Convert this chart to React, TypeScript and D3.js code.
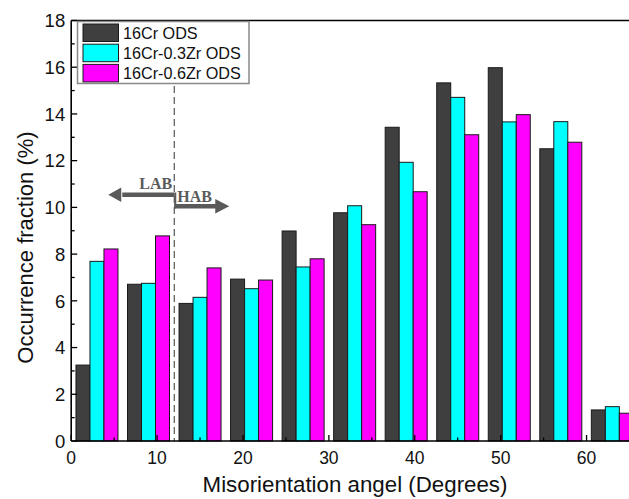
import * as d3 from 'd3'

// bins of 6 degrees, labelled by their centre
const BIN_CENTERS = [3, 9, 15, 21, 27, 33, 39, 45, 51, 57, 63]
const SERIES_NAMES = ['16Cr ODS', '16Cr-0.3Zr ODS', '16Cr-0.6Zr ODS']
const S_16CR = [3.25, 6.71, 5.89, 6.93, 8.99, 9.77, 13.43, 15.33, 15.98, 12.51, 1.33]
const S_03ZR = [7.69, 6.75, 6.15, 6.52, 7.45, 10.07, 11.93, 14.71, 13.66, 13.67, 1.47]
const S_06ZR = [8.22, 8.78, 7.41, 6.89, 7.8, 9.26, 10.67, 13.11, 13.97, 12.79, 1.19]
const COLORS = ['#3f3f3f', '#00ffff', '#ff00ff']
const X_TICKS = [0, 10, 20, 30, 40, 50, 60]
const Y_TICKS = [0, 2, 4, 6, 8, 10, 12, 14, 16, 18]
const BOUNDARY = 12

const W = 629
const H = 499
const FONT = 'Arial, "Liberation Sans", sans-serif'

export default function App() {
  const x = d3.scaleLinear().domain([0, 66]).range([71.2, 638.1])
  const y = d3.scaleLinear().domain([0, 18]).range([441, 20.5])
  const series = [S_16CR, S_03ZR, S_06ZR]
  const barW = x(1.63) - x(0)
  const groupW = barW * 3

  const minorX = d3.range(5, 66, 10)
  const minorY = d3.range(1, 18, 2)
  const bx = x(BOUNDARY)

  return (
    <svg width={W} height={H} style={{ position: 'absolute', left: 0, top: 0, background: '#fff' }}
      fontFamily={FONT}>
      {/* bars */}
      {series.map((vals, si) => (
        <g key={si}>
          {vals.map((v, i) => (
            <rect key={i}
              x={x(BIN_CENTERS[i]) - groupW / 2 + si * barW}
              y={y(v)}
              width={barW}
              height={y(0) - y(v)}
              fill={COLORS[si]} stroke="#1a1a1a" strokeWidth={1} />
          ))}
        </g>
      ))}

      {/* LAB / HAB boundary */}
      <line x1={bx} x2={bx} y1={86} y2={y(0)} stroke="#555" strokeWidth={1.2} strokeDasharray="7,4" />
      <g fill="#5a5a5a">
        <rect x={bx - 52} y={192.5} width={52} height={4.5} />
        <path d={`M${bx - 53},187.5 L${bx - 53},202 L${bx - 66},194.7 Z`} />
        <rect x={bx} y={192.5} width={2} height={16} />
        <rect x={bx} y={204} width={42} height={4.5} />
        <path d={`M${bx + 41},199 L${bx + 41},213.5 L${bx + 55},206.2 Z`} />
      </g>
      <text x={bx - 2} y={189} textAnchor="end" fontFamily='"Liberation Serif", "Times New Roman", serif'
        fontWeight="bold" fontSize={16} fill="#5a5a5a">LAB</text>
      <text x={bx + 3} y={201.5} fontFamily='"Liberation Serif", "Times New Roman", serif'
        fontWeight="bold" fontSize={16} fill="#5a5a5a">HAB</text>

      {/* axes frame */}
      <line x1={x(0)} x2={W} y1={y(0)} y2={y(0)} stroke="#000" strokeWidth={1.6} />
      <line x1={x(0)} x2={x(0)} y1={y(0)} y2={y(18)} stroke="#000" strokeWidth={1.6} />
      <line x1={x(0)} x2={W} y1={y(18)} y2={y(18)} stroke="#000" strokeWidth={1.6} />

      {/* x ticks */}
      {X_TICKS.map(t => (
        <g key={t}>
          <line x1={x(t)} x2={x(t)} y1={y(0)} y2={y(0) - 6} stroke="#000" strokeWidth={1.3} />
          <text x={x(t)} y={463.5} textAnchor="middle" fontSize={17.5} fill="#111">{t}</text>
        </g>
      ))}
      {minorX.map(t => (
        <line key={t} x1={x(t)} x2={x(t)} y1={y(0)} y2={y(0) - 3.5} stroke="#000" strokeWidth={1.3} />
      ))}

      {/* y ticks */}
      {Y_TICKS.map(t => (
        <g key={t}>
          <line x1={x(0)} x2={x(0) + 6} y1={y(t)} y2={y(t)} stroke="#000" strokeWidth={1.3} />
          <text x={x(0) - 6} y={y(t) + 6.8} textAnchor="end" fontSize={18.5} fill="#111">{t}</text>
        </g>
      ))}
      {minorY.map(t => (
        <line key={t} x1={x(0)} x2={x(0) + 3.5} y1={y(t)} y2={y(t)} stroke="#000" strokeWidth={1.3} />
      ))}

      {/* axis titles */}
      <text x={355} y={492} textAnchor="middle" fontSize={22.3} fill="#111">Misorientation angel (Degrees)</text>
      <text transform={`translate(33,${247.5}) rotate(-90)`} textAnchor="middle" fontSize={22} fill="#111">
        Occurrence fraction (%)
      </text>

      {/* legend */}
      <rect x={77.5} y={21.5} width={171.5} height={62} fill="#fff" stroke="#888" strokeWidth={1.5} />
      {SERIES_NAMES.map((name, i) => (
        <g key={name}>
          <rect x={83} y={24 + i * 20.2} width={35.5} height={17.5} fill={COLORS[i]} stroke="#1a1a1a" strokeWidth={1} />
          <text x={123} y={38.8 + i * 20.2} fontSize={16.2} fill="#111">{name}</text>
        </g>
      ))}
    </svg>
  )
}
